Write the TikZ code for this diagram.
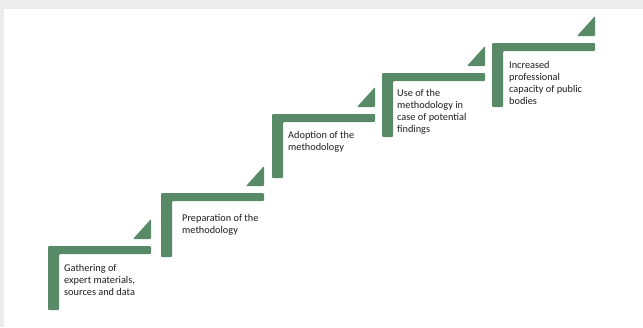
\documentclass[tikz,border=0pt]{standalone}
\usepackage{fontspec}
\setmainfont{Carlito}
\definecolor{stepgreen}{RGB}{88,138,104}
\definecolor{framegray}{RGB}{236,236,236}
\definecolor{txtcol}{RGB}{30,30,30}
\tikzset{
  stairfill/.style={fill=stepgreen, draw=none, rounded corners=1pt},
  steptext/.style={anchor=north west, align=left, inner sep=0pt,
    font=\fontsize{10.3}{12}\selectfont, text=txtcol}
}
\newcommand\stairstep[2]{%
  \fill[stairfill] (#1,#2) -- ++(103,0) -- ++(0,8) -- ++(-92,0) -- ++(0,56) -- ++(-11,0) -- cycle;
  \fill[stairfill] (#1+85,#2-7) -- (#1+103,#2-7) -- (#1+103,#2-27) -- cycle;
}
\begin{document}
\begin{tikzpicture}[x=1pt,y=-1pt]
\useasboundingbox (0,0) rectangle (643,327);
\fill[framegray] (0,0) rectangle (643,327);
\fill[white] (4,9) rectangle (643,327);
\stairstep{48}{246}
\stairstep{161}{193}
\stairstep{272}{114}
\stairstep{382}{73}
\stairstep{492}{43}
\node[steptext] (s1) at (64,264) {Gathering of\\expert materials,\\sources and data};
\node[steptext] (s2) at (182,214) {Preparation of the\\methodology};
\node[steptext] (s3) at (288,131) {Adoption of the\\methodology};
\node[steptext] (s4) at (397,89) {Use of the\\methodology in\\case of potential\\findings};
\node[steptext] (s5) at (509,61) {Increased\\professional\\capacity of public\\bodies};
\end{tikzpicture}
\end{document}
